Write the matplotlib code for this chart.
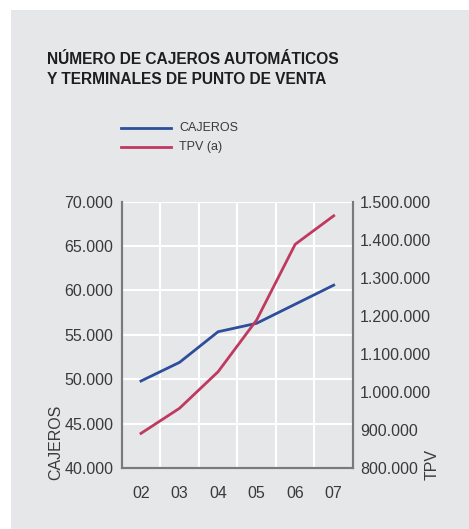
import matplotlib.pyplot as plt
from matplotlib.patches import Rectangle
from matplotlib.ticker import FuncFormatter

years = ["02", "03", "04", "05", "06", "07"]
cajeros = [49800, 51900, 55350, 56300, 58450, 60600]
tpv = [891000, 957000, 1053000, 1189000, 1388000, 1463000]

blue = "#2d4e9b"
red = "#bf3a60"
bg = "#e6e7e9"
txt = "#3a3a3a"

plt.rcParams["font.family"] = ["Liberation Sans", "DejaVu Sans"]

fig = plt.figure(figsize=(4.69, 5.29), dpi=100)
fig.patch.set_facecolor("white")
fig.add_artist(Rectangle((11 / 469, 0), 458 / 469, 1 - 10 / 529,
                         transform=fig.transFigure, facecolor=bg,
                         edgecolor="none", zorder=-10))


def px(x, y):
    return x / 469, 1 - y / 529


def dots(v, pos):
    return f"{int(v):,}".replace(",", ".")


left, top = px(121.7, 201.7)
right, bottom = px(353, 468)
ax = fig.add_axes([left, bottom, right - left, top - bottom])
ax.set_facecolor(bg)
ax2 = ax.twinx()

x = list(range(len(years)))
ax.plot(x, cajeros, color=blue, lw=2, zorder=3)
ax2.plot(x, tpv, color=red, lw=2, zorder=3)

ax.set_xlim(-0.5, len(years) - 0.5)
ax.set_ylim(40000, 70000)
ax2.set_ylim(800000, 1500000)
ax.set_yticks(range(40000, 70001, 5000))
ax2.set_yticks(range(800000, 1500001, 100000))
ax.yaxis.set_major_formatter(FuncFormatter(dots))
ax2.yaxis.set_major_formatter(FuncFormatter(dots))
ax.set_xticks(x)
ax.set_xticklabels(years)
ax.set_xticks([i + 0.5 for i in x[:-1]], minor=True)

ax.grid(True, which="minor", axis="x", color="white", lw=1.5)
ax.grid(True, which="major", axis="y", color="white", lw=1.5)
ax.set_axisbelow(True)

for a in (ax, ax2):
    a.spines["top"].set_visible(False)
    for s in ("left", "right", "bottom"):
        a.spines[s].set_color("#7a7a7a")
        a.spines[s].set_linewidth(1.5)
    a.tick_params(length=0, which="both", colors=txt, labelsize=11.5)
ax.tick_params(axis="y", pad=6)
ax.tick_params(axis="x", pad=13)
ax2.tick_params(axis="y", pad=5)

fig.text(*px(48, 480), "CAJEROS", rotation=90, ha="left", va="bottom",
         fontsize=11.5, color=txt)
fig.text(*px(425, 480), "TPV", rotation=90, ha="left", va="bottom",
         fontsize=11.5, color=txt)

fig.text(*px(47, 60), "NÚMERO DE CAJEROS AUTOMÁTICOS", fontsize=11.2,
         fontweight="bold", color="#1e1e1e", va="center")
fig.text(*px(47, 80), "Y TERMINALES DE PUNTO DE VENTA", fontsize=11.2,
         fontweight="bold", color="#1e1e1e", va="center")

for yy, col, lab in ((128, blue, "CAJEROS"), (147, red, "TPV (a)")):
    fig.add_artist(plt.Line2D([121 / 469, 171 / 469], [1 - yy / 529] * 2,
                              color=col, lw=2))
    fig.text(*px(179, yy), lab, fontsize=9, color=txt, va="center")

fig.savefig("out.png", dpi=100, facecolor=fig.get_facecolor())
